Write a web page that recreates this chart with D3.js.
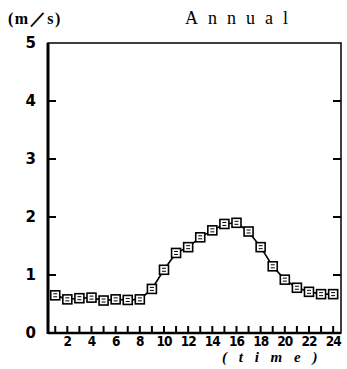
<!DOCTYPE html>
<html><head><meta charset="utf-8">
<script src="https://cdn.jsdelivr.net/npm/d3@7"></script>
<style>body{margin:0;background:#fff}svg{display:block}</style>
</head><body>
<svg id="c" width="347" height="369"></svg>
<script>
const hours = d3.range(1, 25);
const speed = [0.65,0.58,0.60,0.61,0.56,0.58,0.57,0.58,0.76,1.09,1.38,1.48,1.65,1.77,1.88,1.90,1.75,1.48,1.15,0.92,0.78,0.71,0.67,0.67];
const yTicks = [0,1,2,3,4,5];
const xLabels = [2,4,6,8,10,12,14,16,18,20,22,24];
const title = "Annual";
const unit = "(m／s)";
const xTitle = "( t i m e )";

const svg = d3.select("#c");
const L = 48, R = 341, T = 43, B = 333;
const x = d3.scaleLinear().domain([0.4, 24.65]).range([L, R]);
const y = d3.scaleLinear().domain([0, 5]).range([B, T]);

// frame
svg.append("rect").attr("x", L).attr("y", T).attr("width", R - L).attr("height", B - T)
  .attr("fill", "none").attr("stroke", "#000").attr("stroke-width", 1.5);
svg.append("line").attr("x1", L).attr("x2", L).attr("y1", T).attr("y2", B + 1).attr("stroke", "#000").attr("stroke-width", 3);
svg.append("line").attr("x1", L).attr("x2", R).attr("y1", B).attr("y2", B).attr("stroke", "#000").attr("stroke-width", 2.5);

// inward ticks as one path
const inner = [1,2,3,4];
let td = "";
inner.forEach(v => { td += `M${L},${y(v)}h8M${R},${y(v)}h-8`; });
hours.forEach(h => { td += `M${x(h)},${B}v-7`; });
svg.append("path").attr("d", td).attr("stroke", "#000").attr("stroke-width", 2).attr("fill", "none");

// y labels
svg.append("g").selectAll("text").data(yTicks).join("text")
  .attr("x", 36).attr("y", d => y(d)).attr("dy", "0.35em").attr("text-anchor", "end")
  .text(d3.format("d"))
  .attr("font-family", "DejaVu Sans").attr("font-weight", "bold").attr("font-size", 15).attr("fill", "#000");

// x labels
svg.append("g").selectAll("text").data(xLabels).join("text")
  .attr("x", d => x(d)).attr("y", B + 13).attr("text-anchor", "middle")
  .text(d => d)
  .attr("font-family", "DejaVu Sans Condensed, DejaVu Sans").attr("font-weight", "bold")
  .attr("font-size", 13.5).attr("fill", "#000").attr("letter-spacing", -1);

// line
svg.append("path").datum(hours)
  .attr("d", d3.line().x(d => x(d)).y((d, i) => y(speed[i])))
  .attr("fill", "none").attr("stroke", "#000").attr("stroke-width", 1.6);

// markers
const m = svg.append("g").selectAll("g").data(hours).join("g")
  .attr("transform", (d, i) => `translate(${x(d)},${y(speed[i])})`);
m.append("rect").attr("x", -4.5).attr("y", -4.5).attr("width", 9).attr("height", 9)
  .attr("fill", "#fff").attr("stroke", "#000").attr("stroke-width", 1.6);
m.append("path").attr("d", "M-2,-1.5H2M-2,1.5H2").attr("stroke", "#000").attr("stroke-width", 1);

// texts
svg.append("text").attr("x", 8).attr("y", 24).text(unit)
  .attr("font-family", "Liberation Serif").attr("font-weight", "bold").attr("font-size", 16).attr("letter-spacing", 1.5);
svg.append("text").attr("x", 185).attr("y", 24).text(title)
  .attr("font-family", "Liberation Serif").attr("font-size", 18).attr("letter-spacing", 10);
svg.append("text").attr("x", 222).attr("y", 362).text(xTitle)
  .attr("font-family", "Liberation Serif").attr("font-style", "italic").attr("font-weight", "bold").attr("font-size", 15).attr("letter-spacing", 4);
</script>
</body></html>
